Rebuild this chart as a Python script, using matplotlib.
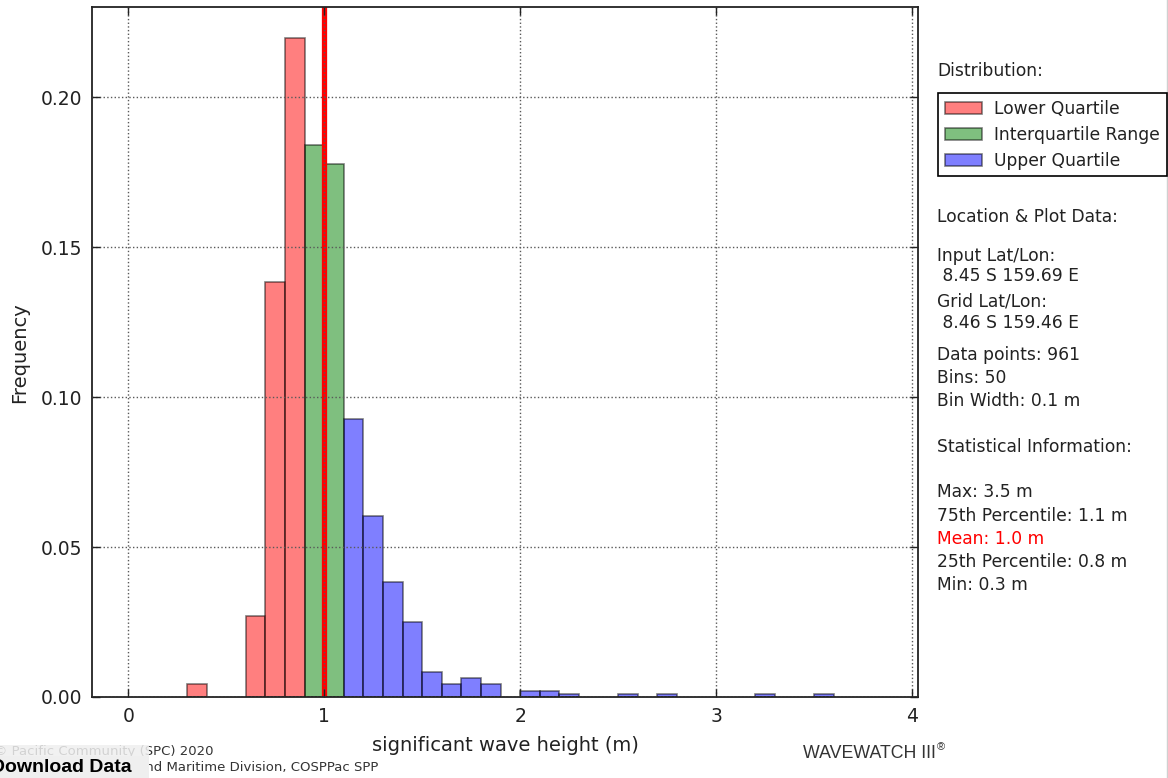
import matplotlib
matplotlib.use("Agg")
import matplotlib.pyplot as plt
from matplotlib.patches import Rectangle, Patch
from matplotlib.lines import Line2D

# ---- data ----
lower_bins = [0.3, 0.6, 0.7, 0.8]
lower_freq = [0.0042, 0.0271, 0.1384, 0.2196]
iqr_bins = [0.9, 1.0]
iqr_freq = [0.1842, 0.1779]
upper_bins = [1.1, 1.2, 1.3, 1.4, 1.5, 1.6, 1.7, 1.8, 2.0, 2.1, 2.2, 2.5, 2.7, 3.2, 3.5]
upper_freq = [0.0926, 0.0604, 0.0385, 0.0250, 0.0083, 0.0042, 0.0062, 0.0042,
              0.0021, 0.0021, 0.0010, 0.0010, 0.0010, 0.0010, 0.0010]
bin_width = 0.1
mean_value = 1.0
x_ticks = [0, 1, 2, 3, 4]
y_ticks = [0.00, 0.05, 0.10, 0.15, 0.20]
legend_labels = ["Lower Quartile", "Interquartile Range", "Upper Quartile"]

info_lines = [
    ("Location & Plot Data:", 217, "#222222"),
    ("Input Lat/Lon:", 256, "#222222"),
    (" 8.45 S 159.69 E", 276, "#222222"),
    ("Grid Lat/Lon:", 302, "#222222"),
    (" 8.46 S 159.46 E", 323, "#222222"),
    ("Data points: 961", 355, "#222222"),
    ("Bins: 50", 378, "#222222"),
    ("Bin Width: 0.1 m", 401, "#222222"),
    ("Statistical Information:", 447, "#222222"),
    ("Max: 3.5 m", 492, "#222222"),
    ("75th Percentile: 1.1 m", 516, "#222222"),
    ("Mean: 1.0 m", 539, "red"),
    ("25th Percentile: 0.8 m", 562, "#222222"),
    ("Min: 0.3 m", 585, "#222222"),
]

W, H = 1168, 778
fx = lambda px: px / W
fy = lambda py: 1 - py / H

plt.rcParams['font.family'] = ['DejaVu Sans']
fig = plt.figure(figsize=(W / 100, H / 100), dpi=100, facecolor='white')
ax = fig.add_axes([fx(91.7), fy(697), fx(918.5) - fx(91.7), fy(7.3) - fy(697)])
ax.set_axisbelow(False)

bar_kw = dict(width=bin_width, align='edge', alpha=0.5, edgecolor='black', linewidth=1.2, zorder=1)
ax.bar(lower_bins, lower_freq, color='red', **bar_kw)
ax.bar(iqr_bins, iqr_freq, color='green', **bar_kw)
ax.bar(upper_bins, upper_freq, color='blue', **bar_kw)
ax.axvline(mean_value, color='red', linewidth=3.8, zorder=2)

ax.set_xlim(-0.187, 4.033)
ax.set_ylim(0, 0.23)
ax.set_xticks(x_ticks)
ax.set_yticks(y_ticks)
ax.set_yticklabels([f"{v:.2f}" for v in y_ticks])
ax.grid(True, color='0.35', linestyle=':', linewidth=1.0)
ax.tick_params(direction='in', length=6, width=1, top=True, right=True,
               labelsize=13.5, pad=7, colors='#222222')
for s in ax.spines.values():
    s.set_linewidth(1.3)
    s.set_color('#222222')

ax.set_xlabel("significant wave height (m)", fontsize=14, labelpad=7.5, color='#222222')
ax.set_ylabel("Frequency", fontsize=14, labelpad=8, color='#222222')

# right panel
FS = 12.3
fig.text(fx(937), fy(71), "Distribution:", fontsize=FS, va='center', ha='left', color='#222222')
handles = [Patch(facecolor='red', alpha=0.5, edgecolor='black', linewidth=1.2),
           Patch(facecolor='green', alpha=0.5, edgecolor='black', linewidth=1.2),
           Patch(facecolor='blue', alpha=0.5, edgecolor='black', linewidth=1.2)]
leg = fig.legend(handles, legend_labels, loc='upper left',
                 bbox_to_anchor=(fx(938), fy(93)), borderaxespad=0,
                 fancybox=False, framealpha=1, edgecolor='black', fontsize=FS,
                 handlelength=2.15, handleheight=0.7, handletextpad=0.75,
                 borderpad=0.4, labelspacing=0.46)
leg.get_frame().set_linewidth(1.2)
for t in leg.get_texts():
    t.set_color('#222222')

for txt, ypx, col in info_lines:
    fig.text(fx(937), fy(ypx), txt, fontsize=FS, va='center', ha='left', color=col)

# footer
fig.text(fx(214), fy(751), "© Pacific Community (SPC) 2020", fontsize=9.5,
         ha='right', va='center', color='#333333')
fig.text(fx(378), fy(767), "Geoscience Energy and Maritime Division, COSPPac SPP",
         fontsize=9.5, ha='right', va='center', color='#333333')
fig.add_artist(Rectangle((0, fy(756)), fx(149), fy(745) - fy(756), transform=fig.transFigure,
                         facecolor='#efefef', edgecolor='none', alpha=0.85, zorder=5))
fig.add_artist(Rectangle((0, 0), fx(149), fy(756), transform=fig.transFigure,
                         facecolor='#efefef', edgecolor='none', zorder=5))
fig.text(fx(132), fy(767), "Download Data", fontsize=14, fontweight='bold',
         family='Liberation Sans', ha='right', va='center', color='black', zorder=6)

fig.text(fx(803), fy(754), "WAVEWATCH III", fontsize=12.8, family='Liberation Sans',
         ha='left', va='center', color='#333333')
fig.text(fx(937), fy(747), "®", fontsize=8, family='Liberation Sans',
         ha='left', va='center', color='#333333')

fig.add_artist(Line2D([fx(1166.5), fx(1166.5)], [0, 1], transform=fig.transFigure,
                      color='#d0d0d0', linewidth=1))

fig.savefig("out.png", dpi=100, facecolor='white')
